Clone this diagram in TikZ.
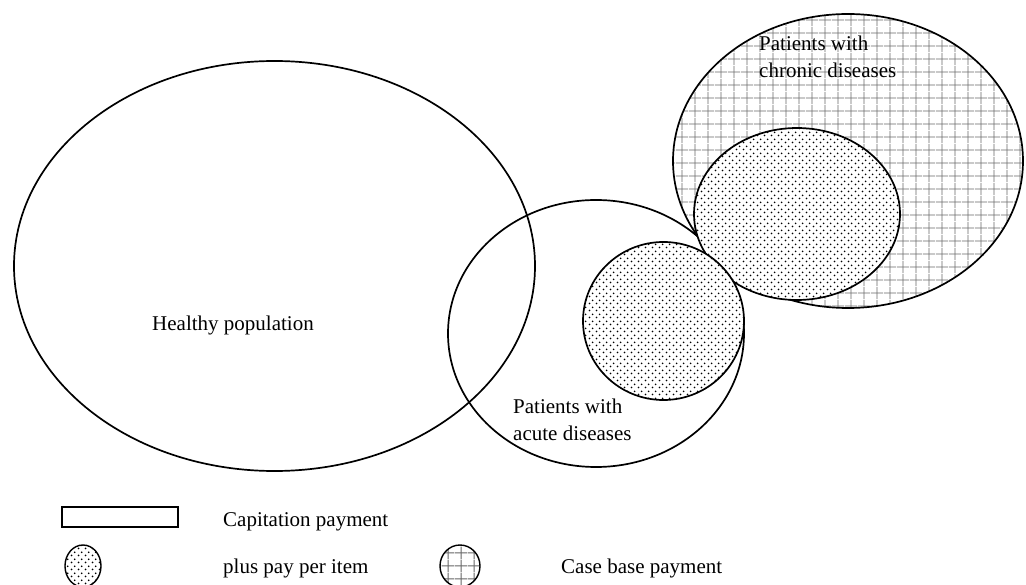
\documentclass[tikz,border=0pt]{standalone}
\usepackage{fontspec}
\setmainfont{Liberation Serif}
\usetikzlibrary{positioning, shapes.geometric, patterns.meta}

\tikzdeclarepattern{
  name=dotfill,
  type=uncolored,
  bottom left={(0pt,0pt)},
  top right={(7pt,7pt)},
  tile size={(7pt,7pt)},
  code={
    \fill (1.75pt,1.75pt) circle (1.05pt);
    \fill (5.25pt,5.25pt) circle (1.05pt);
  }
}
\tikzdeclarepattern{
  name=gridfill,
  type=uncolored,
  bottom left={(0pt,0pt)},
  top right={(13pt,13pt)},
  tile size={(13pt,13pt)},
  code={
    \draw[line width=0.9pt] (0pt,6.5pt) -- (13pt,6.5pt);
    \draw[line width=0.9pt] (6.5pt,0pt) -- (6.5pt,13pt);
  }
}

\tikzstyle{popset} = [
  ellipse, draw=black, line width=1.7pt,
  inner sep=0pt, outer sep=0pt
]
\tikzstyle{itemset} = [
  popset, preaction={fill=white},
  pattern=dotfill, pattern color=black
]
\tikzstyle{caseset} = [
  popset, preaction={fill=white},
  pattern=gridfill, pattern color=black!60
]
\tikzstyle{settext} = [
  align=left, inner sep=0pt,
  font=\fontsize{21}{27}\selectfont
]

\begin{document}
\begin{tikzpicture}[x=1pt, y=-1pt]

\useasboundingbox (0,0) rectangle (1026,585);

% ------------------------------------------------
% GROUPS OF THE POPULATION
% ------------------------------------------------

% healthy: big open ellipse on the left
\node[popset, minimum width=521, minimum height=410] (healthy) at (274.5,266) {};

% chronic: grid ellipse top right
\node[caseset, minimum width=350, minimum height=294] (chronic) at (848,161) {};

% acute: open circle in the middle
\node[popset, minimum width=296, minimum height=267] (acute) at (596,333.5) {};

% dotted parts (pay per item)
\node[itemset, minimum width=206, minimum height=172] (chronicdot) at (797,214) {};
\node[itemset, minimum width=161, minimum height=158] (acutedot) at (663.5,321) {};

% ------------------------------------------------
% TEXTS
% ------------------------------------------------

\node[settext] (healthytext) at (233,325) {Healthy population};
\node[settext, anchor=west] (chronictext) at (759,57) {Patients with\\chronic diseases};
\node[settext, anchor=west] (acutetext) at (513,420) {Patients with\\acute diseases};

% ------------------------------------------------
% LEGEND
% ------------------------------------------------

\node[draw=black, line width=1.4pt, minimum width=116, minimum height=20,
      inner sep=0pt] (legcap) at (120,517) {};
\node[itemset, line width=1.4pt, minimum width=36, minimum height=42] (legitem) at (83,566) {};
\node[caseset, line width=1.4pt, minimum width=40, minimum height=42] (legcase) at (460,566) {};

\node[settext, anchor=west] (capitext) at (223,522) {Capitation payment};
\node[settext, anchor=west] (itemtext) at (223,568) {plus pay per item};
\node[settext, anchor=west] (casetext) at (561,568) {Case base payment};

\end{tikzpicture}
\end{document}
